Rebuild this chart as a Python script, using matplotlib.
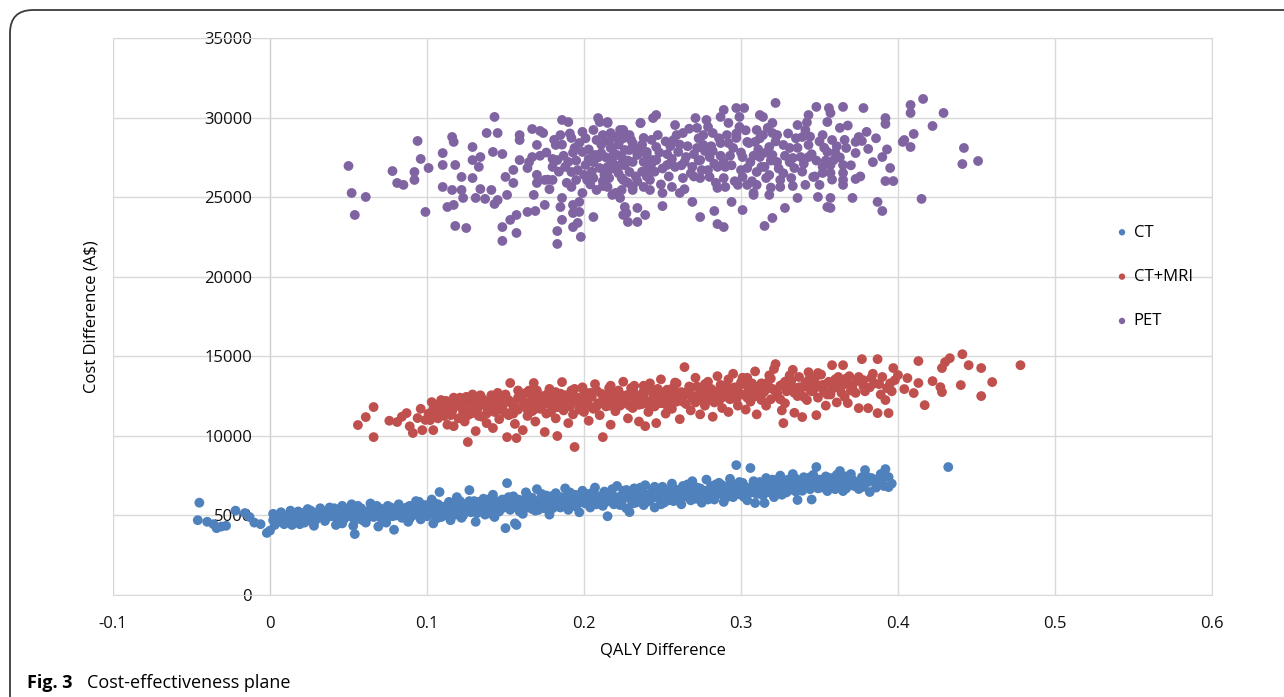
import matplotlib
matplotlib.use("Agg")
import matplotlib.pyplot as plt
from matplotlib.patches import FancyBboxPatch
import numpy as np

plt.rcParams['font.family'] = ['Open Sans', 'DejaVu Sans']

# (QALY difference, cost difference)
ct_points = [
    (-0.045, 5800), (-0.046, 4700), (-0.040, 4600), (-0.036, 4450), (-0.034, 4200), (-0.031, 4300),
    (-0.028, 4350), (-0.022, 5300), (-0.016, 5150), (-0.013, 4900), (-0.010, 4550), (-0.006, 4450),
    (-0.002, 3900), (0.000, 4050), (0.002, 4700), (0.004, 4850), (0.007, 5200), (0.009, 4450),
    (0.012, 4600), (0.015, 5050), (0.017, 4700), (0.019, 4450), (0.021, 5150), (0.023, 4800),
    (0.026, 5300), (0.028, 4350), (0.030, 4900), (0.032, 5450), (0.033, 5100), (0.035, 4650),
    (0.037, 5250), (0.039, 4950), (0.041, 5450), (0.042, 4400), (0.044, 5050), (0.046, 5600),
    (0.047, 4750), (0.049, 5300), (0.050, 4950), (0.052, 5700), (0.053, 4350), (0.054, 3830),
    (0.055, 5150), (0.057, 4800), (0.058, 5450), (0.060, 5000), (0.061, 4550), (0.063, 5300),
    (0.064, 5750), (0.066, 4900), (0.067, 5150), (0.069, 4300), (0.070, 5450), (0.072, 5050),
    (0.073, 4700), (0.075, 5600), (0.076, 5250), (0.078, 4950), (0.079, 4100), (0.081, 5350),
    (0.082, 5700), (0.084, 4850), (0.085, 5150), (0.087, 5500), (0.088, 4600), (0.090, 5300),
    (0.091, 5000), (0.093, 5900), (0.094, 5450), (0.096, 4750), (0.097, 5200), (0.099, 5650),
    (0.100, 4950), (0.101, 5400), (0.103, 6000), (0.104, 4500), (0.105, 5150), (0.107, 5700),
    (0.108, 6470), (0.109, 4900), (0.111, 5450), (0.112, 5250), (0.114, 5850), (0.115, 4700),
    (0.116, 5550), (0.118, 5050), (0.119, 6150), (0.121, 5350), (0.122, 4850), (0.124, 5700),
    (0.125, 5500), (0.127, 6590), (0.128, 5200), (0.130, 5900), (0.131, 4600), (0.133, 5600),
    (0.134, 5350), (0.136, 6050), (0.137, 5050), (0.139, 5750), (0.140, 5450), (0.142, 6300),
    (0.143, 4900), (0.145, 5650), (0.146, 5250), (0.148, 6000), (0.149, 5500), (0.151, 7030),
    (0.150, 4200), (0.152, 5800), (0.153, 5350), (0.155, 6200), (0.156, 4500), (0.157, 4400),
    (0.158, 5650), (0.160, 5950), (0.161, 5100), (0.163, 6450), (0.164, 5500), (0.166, 5800),
    (0.167, 6100), (0.169, 5300), (0.170, 6650), (0.172, 5700), (0.173, 5950), (0.175, 5450),
    (0.176, 6250), (0.178, 5050), (0.179, 6000), (0.181, 5750), (0.182, 6400), (0.184, 5550),
    (0.185, 6150), (0.187, 5850), (0.188, 6700), (0.190, 5350), (0.191, 6000), (0.193, 5650),
    (0.194, 6300), (0.196, 5900), (0.197, 5200), (0.199, 6550), (0.200, 6100), (0.201, 5750),
    (0.203, 6350), (0.204, 5500), (0.206, 6000), (0.207, 6750), (0.209, 5850), (0.210, 6200),
    (0.212, 5600), (0.213, 6500), (0.215, 4950), (0.216, 6050), (0.218, 6300), (0.219, 5700),
    (0.221, 6850), (0.222, 6150), (0.224, 5900), (0.225, 6550), (0.227, 5450), (0.228, 6250),
    (0.229, 5210), (0.230, 6000), (0.232, 6700), (0.233, 5800), (0.235, 6400), (0.236, 6100),
    (0.238, 5650), (0.239, 6900), (0.241, 6250), (0.242, 5950), (0.244, 6600), (0.245, 5500),
    (0.247, 6350), (0.248, 6050), (0.250, 6800), (0.251, 5800), (0.253, 6450), (0.254, 6150),
    (0.256, 7000), (0.257, 5900), (0.259, 6600), (0.260, 6300), (0.262, 5700), (0.263, 6850),
    (0.265, 6200), (0.266, 6500), (0.268, 5950), (0.269, 7150), (0.271, 6400), (0.272, 6050),
    (0.274, 6700), (0.275, 5800), (0.277, 6550), (0.278, 7250), (0.280, 6250), (0.281, 6850),
    (0.283, 6000), (0.284, 6600), (0.286, 7050), (0.287, 6350), (0.289, 5850), (0.290, 6750),
    (0.292, 6450), (0.293, 7300), (0.295, 6150), (0.296, 6900), (0.297, 8160), (0.298, 6600),
    (0.300, 6300), (0.301, 7050), (0.303, 6500), (0.304, 5950), (0.306, 7980), (0.307, 6800),
    (0.309, 5780), (0.310, 6350), (0.312, 7100), (0.313, 6650), (0.315, 5780), (0.316, 7350),
    (0.318, 6450), (0.319, 6900), (0.321, 6150), (0.322, 7200), (0.324, 6700), (0.325, 7500),
    (0.327, 6400), (0.328, 6950), (0.330, 7250), (0.331, 6600), (0.333, 7600), (0.334, 6850),
    (0.336, 5970), (0.337, 7100), (0.339, 6550), (0.340, 7400), (0.342, 6800), (0.343, 7150),
    (0.345, 6000), (0.346, 7550), (0.348, 8040), (0.349, 6700), (0.350, 7250), (0.352, 6950),
    (0.354, 7450), (0.355, 6530), (0.357, 7150), (0.359, 6850), (0.361, 7550), (0.363, 7790),
    (0.365, 6530), (0.366, 7250), (0.368, 6950), (0.370, 7600), (0.372, 7050), (0.375, 6660),
    (0.377, 7400), (0.379, 7850), (0.381, 7100), (0.382, 6470), (0.385, 7250), (0.387, 6910),
    (0.389, 7600), (0.392, 7910), (0.394, 7410), (0.394, 6780), (0.396, 7000), (0.432, 8040),
    # dense middle of the band
    (0.002, 5100), (0.006, 4600), (0.011, 4950), (0.014, 4400), (0.018, 5250), (0.022, 4550),
    (0.025, 5000), (0.029, 4700), (0.031, 5200), (0.036, 4850), (0.038, 5500), (0.043, 4750),
    (0.045, 5250), (0.048, 5000), (0.051, 5400), (0.054, 4700), (0.056, 5050), (0.059, 5300),
    (0.062, 4850), (0.065, 5450), (0.068, 5100), (0.071, 4800), (0.074, 5300), (0.077, 5500),
    (0.080, 5000), (0.083, 5250), (0.086, 4900), (0.089, 5600), (0.092, 5150), (0.095, 5350),
    (0.098, 5000), (0.102, 5600), (0.104, 5250), (0.106, 4800), (0.110, 5550), (0.113, 5100),
    (0.117, 5800), (0.120, 5300), (0.123, 5000), (0.126, 5650), (0.129, 5400), (0.132, 5150),
    (0.135, 5800), (0.138, 5500), (0.141, 5100), (0.144, 5900), (0.147, 5400), (0.150, 5650),
    (0.154, 5950), (0.157, 5500), (0.159, 5250), (0.162, 5800), (0.165, 6050), (0.168, 5600),
    (0.171, 5350), (0.174, 6200), (0.177, 5700), (0.180, 5450), (0.183, 6000), (0.186, 5650),
    (0.189, 6250), (0.192, 5800), (0.195, 5550), (0.198, 6050), (0.202, 5900), (0.205, 6250),
    (0.208, 5700), (0.211, 6050), (0.214, 5850), (0.217, 6450), (0.220, 6000), (0.223, 5650),
    (0.226, 6300), (0.229, 6100), (0.231, 5750), (0.234, 6550), (0.237, 6200), (0.240, 5850),
    (0.243, 6400), (0.246, 6150), (0.249, 5700), (0.252, 6600), (0.255, 6300), (0.258, 6000),
    (0.261, 6500), (0.264, 6250), (0.267, 6800), (0.270, 6050), (0.273, 6550), (0.276, 6300),
    (0.279, 6000), (0.282, 6650), (0.285, 6400), (0.288, 6900), (0.291, 6150), (0.294, 6600),
    (0.297, 6350), (0.299, 6800), (0.302, 6150), (0.305, 6700), (0.308, 6450), (0.311, 6900),
    (0.314, 6250), (0.317, 6750), (0.320, 6550), (0.323, 6950), (0.326, 6300), (0.329, 6700),
    (0.332, 7050), (0.335, 6500), (0.338, 6900), (0.341, 7200), (0.344, 6650), (0.347, 7000),
    (0.351, 6750), (0.353, 7200), (0.356, 6900), (0.360, 7050), (0.364, 7300), (0.367, 6700),
    (0.371, 7250), (0.374, 7000), (0.378, 6800), (0.383, 7350), (0.388, 7100), (0.391, 6850),
    (0.003, 4400), (0.008, 5000), (0.013, 5300), (0.016, 4800), (0.020, 4950), (0.024, 5400),
    (0.027, 4600), (0.034, 4950), (0.040, 5150), (0.046, 4500), (0.051, 5100), (0.056, 5600),
    (0.059, 4700), (0.063, 5000), (0.068, 5600), (0.071, 5250), (0.074, 4550), (0.078, 5150),
    (0.083, 5450), (0.086, 5250), (0.089, 4800), (0.092, 5500), (0.095, 5850), (0.098, 5350),
    (0.102, 5100), (0.105, 5750), (0.108, 5350), (0.111, 5000), (0.114, 5500), (0.118, 5600),
    (0.121, 5900), (0.124, 5250), (0.127, 5900), (0.130, 5450), (0.133, 5850), (0.136, 5250),
    (0.139, 6000), (0.142, 5600), (0.145, 5400), (0.148, 5750), (0.152, 6150), (0.155, 5650),
    (0.158, 6000), (0.161, 5600), (0.164, 6250), (0.167, 5400), (0.170, 5900), (0.173, 6350),
    (0.176, 5600), (0.179, 6200), (0.182, 5850), (0.185, 5500), (0.188, 6050), (0.191, 6450),
    (0.194, 5950), (0.197, 6300), (0.200, 5800), (0.203, 6100), (0.206, 6500), (0.209, 6150),
    (0.212, 5850), (0.215, 6300), (0.218, 6650), (0.221, 5850), (0.224, 6200), (0.227, 6600),
    (0.230, 6250), (0.233, 6050), (0.236, 6750), (0.239, 6350), (0.242, 6150), (0.245, 6800),
    (0.248, 6250), (0.251, 6500), (0.254, 5950), (0.257, 6700), (0.260, 6100), (0.263, 6550),
    (0.266, 6950), (0.269, 6300), (0.272, 6750), (0.275, 6150), (0.278, 6550), (0.281, 6400),
    (0.284, 6950), (0.287, 6650), (0.290, 6250), (0.293, 6900), (0.296, 6450), (0.299, 7100),
    (0.302, 6850), (0.305, 6400), (0.308, 7150), (0.311, 6600), (0.314, 7000), (0.317, 6550),
    (0.320, 7250), (0.323, 6600), (0.326, 7050), (0.329, 6450), (0.332, 6850), (0.335, 7300),
    (0.338, 6750), (0.341, 7050), (0.344, 7400), (0.347, 6850), (0.350, 7050), (0.354, 6750),
    (0.357, 7350), (0.360, 6650), (0.363, 7050), (0.367, 7450), (0.372, 6850), (0.376, 7150),
    (0.380, 7450), (0.386, 6750), (0.390, 7300),
]

ctmri_points = [
    (0.056, 10680), (0.061, 11180), (0.066, 11810), (0.066, 9920), (0.076, 10950), (0.081, 10870),
    (0.084, 11200), (0.087, 11430), (0.089, 10600), (0.091, 10180), (0.094, 11120), (0.096, 11700),
    (0.097, 10360), (0.099, 11000), (0.102, 10990), (0.103, 12120), (0.104, 10360), (0.106, 11450),
    (0.108, 11800), (0.109, 12250), (0.111, 11250), (0.113, 10700), (0.114, 12000), (0.116, 11550),
    (0.117, 10610), (0.119, 12300), (0.120, 11100), (0.122, 11800), (0.124, 10900), (0.125, 12450),
    (0.126, 9610), (0.128, 11400), (0.129, 12000), (0.131, 10300), (0.132, 11650), (0.134, 12550),
    (0.135, 11200), (0.137, 11900), (0.138, 10800), (0.140, 12250), (0.142, 10490), (0.143, 11500),
    (0.145, 12700), (0.146, 11050), (0.148, 11800), (0.149, 12400), (0.151, 9920), (0.152, 11300),
    (0.153, 13320), (0.155, 12050), (0.156, 10750), (0.157, 9860), (0.158, 11650), (0.160, 12600),
    (0.161, 10360), (0.162, 11950), (0.164, 11250), (0.165, 12850), (0.167, 11550), (0.168, 13320),
    (0.169, 10900), (0.171, 12200), (0.172, 11700), (0.174, 12500), (0.175, 10240), (0.176, 11400),
    (0.178, 12950), (0.179, 11900), (0.181, 12300), (0.182, 11100), (0.183, 9990), (0.185, 12650),
    (0.186, 13380), (0.187, 11600), (0.189, 12100), (0.190, 10800), (0.192, 12850), (0.193, 11350),
    (0.194, 9300), (0.196, 12400), (0.197, 11800), (0.199, 13050), (0.200, 11500), (0.201, 12250),
    (0.203, 10950), (0.204, 12700), (0.206, 11700), (0.207, 13250), (0.209, 12050), (0.210, 11300),
    (0.212, 9920), (0.213, 12550), (0.214, 11850), (0.216, 13000), (0.217, 10700), (0.219, 12300),
    (0.220, 11550), (0.222, 12850), (0.223, 11900), (0.225, 13400), (0.226, 12150), (0.228, 11100),
    (0.229, 12600), (0.231, 11750), (0.232, 13150), (0.234, 12350), (0.235, 10900), (0.237, 12000),
    (0.238, 12800), (0.239, 10610), (0.241, 11500), (0.242, 13300), (0.244, 12200), (0.245, 11850),
    (0.246, 10800), (0.247, 12650), (0.249, 13550), (0.250, 12050), (0.252, 11400), (0.253, 12900),
    (0.255, 12400), (0.256, 11700), (0.258, 13350), (0.259, 12150), (0.261, 11050), (0.262, 12750),
    (0.264, 14320), (0.265, 12000), (0.267, 13100), (0.268, 11600), (0.270, 12500), (0.271, 13650),
    (0.273, 12250), (0.274, 11350), (0.276, 12950), (0.277, 11900), (0.279, 13400), (0.280, 12650),
    (0.282, 11200), (0.283, 12100), (0.285, 13750), (0.286, 12800), (0.288, 11750), (0.289, 12450),
    (0.291, 13200), (0.292, 11500), (0.294, 12900), (0.295, 13900), (0.297, 12300), (0.298, 11900),
    (0.300, 13350), (0.301, 12600), (0.303, 11650), (0.304, 13650), (0.306, 12150), (0.307, 12950),
    (0.309, 14050), (0.310, 11350), (0.312, 12450), (0.313, 13300), (0.315, 12800), (0.316, 11900),
    (0.318, 13800), (0.319, 12300), (0.321, 14200), (0.322, 14510), (0.323, 12700), (0.325, 13150),
    (0.326, 11600), (0.327, 10800), (0.328, 12050), (0.330, 13500), (0.331, 12900), (0.333, 14150),
    (0.334, 11450), (0.336, 12500), (0.337, 13700), (0.339, 11180), (0.340, 13100), (0.342, 12250),
    (0.343, 14000), (0.345, 12800), (0.346, 13400), (0.348, 11300), (0.349, 12400), (0.351, 13850),
    (0.352, 12950), (0.354, 11900), (0.355, 13300), (0.357, 12600), (0.358, 14440), (0.360, 13550),
    (0.361, 12100), (0.363, 13000), (0.365, 14440), (0.366, 12450), (0.368, 12060), (0.369, 13750),
    (0.371, 13200), (0.373, 12700), (0.375, 11740), (0.377, 14820), (0.378, 13500), (0.381, 11740),
    (0.382, 13050), (0.384, 13900), (0.387, 14820), (0.387, 11430), (0.389, 12600), (0.392, 12250),
    (0.394, 11430), (0.395, 13300), (0.397, 14260), (0.400, 13820), (0.404, 12940), (0.406, 13630),
    (0.410, 12690), (0.413, 14700), (0.413, 13320), (0.417, 11930), (0.422, 13440), (0.427, 13060),
    (0.428, 14260), (0.428, 12750), (0.430, 14630), (0.433, 14880), (0.440, 13190), (0.441, 15130),
    (0.445, 14440), (0.453, 14260), (0.453, 12500), (0.460, 13380), (0.478, 14440),
    # dense middle of the band
    (0.101, 11400), (0.105, 11900), (0.107, 11100), (0.110, 11700), (0.112, 12200), (0.115, 11300),
    (0.118, 11850), (0.121, 12400), (0.123, 11500), (0.126, 12100), (0.128, 11700), (0.131, 12300),
    (0.133, 11250), (0.136, 12000), (0.139, 11600), (0.141, 12550), (0.144, 11900), (0.147, 12250),
    (0.150, 11450), (0.153, 12100), (0.155, 11700), (0.158, 12400), (0.161, 11900), (0.163, 12700),
    (0.166, 12150), (0.169, 11700), (0.172, 12450), (0.174, 11950), (0.177, 12650), (0.180, 12100),
    (0.183, 11800), (0.186, 12350), (0.188, 11950), (0.191, 12600), (0.194, 12200), (0.197, 11650),
    (0.200, 12800), (0.202, 12050), (0.205, 12450), (0.208, 11850), (0.211, 12650), (0.213, 12150),
    (0.216, 11900), (0.218, 12700), (0.221, 12250), (0.224, 12000), (0.227, 12550), (0.230, 13000),
    (0.232, 12300), (0.235, 11950), (0.238, 12600), (0.240, 12200), (0.243, 12900), (0.246, 12400),
    (0.248, 12050), (0.251, 12750), (0.254, 12250), (0.257, 13050), (0.260, 12550), (0.263, 12150),
    (0.266, 12800), (0.269, 12400), (0.272, 13100), (0.275, 12650), (0.278, 12200), (0.281, 12950),
    (0.284, 12550), (0.287, 13200), (0.290, 12750), (0.293, 12300), (0.296, 13050), (0.299, 12650),
    (0.302, 13250), (0.305, 12850), (0.308, 12450), (0.311, 13100), (0.314, 12700), (0.317, 13350),
    (0.320, 12950), (0.323, 12500), (0.326, 13200), (0.329, 12800), (0.332, 13450), (0.335, 13000),
    (0.338, 12600), (0.341, 13300), (0.344, 12900), (0.347, 13600), (0.350, 13150), (0.353, 12750),
    (0.356, 13400), (0.359, 13000), (0.362, 13700), (0.366, 13250), (0.370, 12850), (0.374, 13450),
    (0.378, 13100), (0.383, 13650), (0.388, 13250), (0.393, 13000), (0.398, 13500),
    (0.104, 11700), (0.108, 12000), (0.111, 11950), (0.114, 11500), (0.117, 12400), (0.120, 11900),
    (0.123, 12150), (0.126, 11300), (0.129, 12600), (0.132, 11900), (0.135, 12350), (0.138, 11400),
    (0.141, 11800), (0.144, 12350), (0.147, 11650), (0.150, 12600), (0.152, 12250), (0.155, 11400),
    (0.158, 12850), (0.161, 12200), (0.164, 11650), (0.167, 12450), (0.170, 12850), (0.173, 11950),
    (0.176, 12250), (0.179, 11500), (0.182, 12750), (0.185, 12050), (0.188, 12550), (0.191, 11850),
    (0.194, 12950), (0.197, 12300), (0.199, 12000), (0.202, 12500), (0.205, 11800), (0.208, 12850),
    (0.211, 12100), (0.214, 12400), (0.217, 13150), (0.220, 12050), (0.223, 12600), (0.226, 12350),
    (0.229, 11900), (0.232, 12700), (0.235, 12450), (0.238, 13150), (0.241, 12000), (0.244, 12650),
    (0.247, 12950), (0.250, 12400), (0.253, 11900), (0.256, 12650), (0.259, 13300), (0.262, 12300),
    (0.265, 12600), (0.268, 13050), (0.271, 12100), (0.274, 12800), (0.277, 13250), (0.280, 12400),
    (0.283, 12800), (0.286, 12200), (0.289, 13000), (0.292, 13550), (0.295, 12450), (0.298, 12850),
    (0.301, 13650), (0.304, 12400), (0.307, 13300), (0.310, 12750), (0.313, 12250), (0.316, 13150),
    (0.319, 13600), (0.322, 12800), (0.325, 12300), (0.328, 13400), (0.331, 13800), (0.334, 12700),
    (0.337, 13050), (0.340, 12450), (0.343, 13500), (0.346, 12850), (0.349, 13950), (0.352, 13200),
    (0.355, 12600), (0.358, 13100), (0.361, 13400), (0.364, 12700), (0.367, 13600), (0.371, 12950),
    (0.375, 13700), (0.379, 12800), (0.385, 13300), (0.390, 13700), (0.396, 12800),
]

pet_points = [
    (0.050, 26960), (0.052, 25260), (0.054, 23880), (0.061, 25010), (0.078, 26640), (0.081, 25890),
    (0.085, 25770), (0.092, 26080), (0.092, 26580), (0.094, 28530), (0.096, 27400), (0.099, 24070),
    (0.101, 26830), (0.110, 27770), (0.110, 27020), (0.110, 25640), (0.116, 28780), (0.117, 28470),
    (0.113, 24380), (0.118, 23190), (0.125, 23060), (0.118, 27020), (0.122, 26270), (0.122, 25450),
    (0.129, 28150), (0.129, 26200), (0.131, 24950), (0.116, 25450), (0.117, 24510), (0.123, 24950),
    (0.134, 25510), (0.137, 24890), (0.138, 29030), (0.145, 29030), (0.143, 30040), (0.142, 27840),
    (0.148, 27710), (0.129, 27330), (0.134, 27520), (0.133, 26900), (0.141, 25450), (0.145, 24820),
    (0.143, 24570), (0.148, 23120), (0.148, 22250), (0.157, 22750), (0.153, 23570), (0.157, 23880),
    (0.155, 26710), (0.159, 27330), (0.159, 28590), (0.159, 28900), (0.150, 26270), (0.155, 25890),
    (0.151, 25140), (0.164, 24070), (0.169, 24130), (0.167, 29280), (0.172, 29160), (0.174, 29030),
    (0.170, 28280), (0.167, 27520), (0.164, 26830), (0.175, 24510), (0.175, 26080), (0.170, 25890),
    (0.168, 25140), (0.183, 22060), (0.183, 22870), (0.186, 23570), (0.185, 24380), (0.186, 24950),
    (0.186, 29850), (0.190, 29720), (0.182, 28280), (0.185, 28900), (0.183, 27330), (0.180, 26900),
    (0.180, 26080), (0.192, 28720), (0.194, 28090), (0.190, 27210), (0.192, 26580), (0.195, 26080),
    (0.192, 25640), (0.193, 24510), (0.193, 24000), (0.197, 24700), (0.197, 24070), (0.193, 23120),
    (0.198, 22500), (0.196, 23380), (0.199, 29100), (0.199, 27840), (0.201, 27020), (0.202, 26080),
    (0.199, 25260), (0.206, 23750), (0.206, 29220), (0.209, 29970), (0.215, 29720), (0.212, 28900),
    (0.208, 28590), (0.207, 27650), (0.210, 26830), (0.206, 26200), (0.208, 25450), (0.217, 29030),
    (0.218, 28090), (0.218, 27210), (0.215, 26580), (0.215, 25640), (0.221, 25260), (0.224, 26200),
    (0.224, 27520), (0.223, 28590), (0.225, 29220), (0.227, 24000), (0.225, 23880), (0.228, 23440),
    (0.234, 23440), (0.234, 24320), (0.239, 23880), (0.229, 27960), (0.231, 27210), (0.236, 29660),
    (0.238, 28720), (0.240, 27650), (0.241, 26830), (0.244, 29970), (0.246, 30160), (0.242, 26080),
    (0.238, 25640), (0.231, 25450), (0.224, 25450), (0.218, 25140), (0.227, 25950), (0.244, 27330),
    (0.246, 28150), (0.210, 29720), (0.215, 29660), (0.236, 29660), (0.223, 29220), (0.229, 28900),
    (0.220, 28780), (0.212, 28590), (0.231, 28400), (0.217, 28090), (0.226, 27960), (0.211, 27770),
    (0.221, 27650), (0.234, 27650), (0.240, 27840), (0.238, 27210), (0.246, 27330), (0.253, 27020),
    (0.215, 26900), (0.223, 27020), (0.229, 26580), (0.216, 26200), (0.225, 26080), (0.231, 25640),
    (0.212, 25700), (0.220, 25260), (0.223, 24950), (0.226, 24380), (0.242, 25450), (0.250, 24440),
    (0.250, 25260), (0.256, 25640), (0.263, 26200), (0.261, 25260), (0.269, 24700), (0.274, 23750),
    (0.283, 24130), (0.285, 23310), (0.289, 23120), (0.294, 24700), (0.290, 25640), (0.285, 25580),
    (0.274, 26200), (0.280, 26270), (0.269, 26900), (0.265, 27520), (0.260, 27840), (0.257, 28590),
    (0.263, 29030), (0.258, 29530), (0.271, 29970), (0.272, 29350), (0.278, 29850), (0.279, 29410),
    (0.287, 30040), (0.289, 30480), (0.292, 29660), (0.282, 29030), (0.287, 28400), (0.276, 28280),
    (0.272, 28090), (0.274, 27330), (0.280, 27520), (0.285, 26900), (0.289, 27210), (0.295, 28090),
    (0.291, 28900), (0.297, 30600), (0.302, 30600), (0.299, 30040), (0.299, 29410), (0.297, 28720),
    (0.304, 28470), (0.301, 27520), (0.304, 26830), (0.301, 26270), (0.298, 25770), (0.304, 25770),
    (0.310, 25770), (0.308, 25140), (0.301, 24190), (0.312, 30160), (0.314, 30040), (0.322, 30920),
    (0.320, 29660), (0.317, 29350), (0.310, 29220), (0.309, 28470), (0.314, 28900), (0.320, 29030),
    (0.318, 28150), (0.312, 27520), (0.320, 27650), (0.323, 27210), (0.315, 26900), (0.310, 26580),
    (0.318, 26390), (0.325, 26080), (0.325, 25640), (0.318, 25140), (0.308, 25260), (0.328, 24320),
    (0.320, 23690), (0.315, 23190), (0.336, 24950), (0.327, 28280), (0.331, 28090), (0.333, 27460),
    (0.334, 26830), (0.332, 26200), (0.336, 29530), (0.341, 29220), (0.343, 30160), (0.339, 28780),
    (0.343, 28280), (0.343, 27520), (0.338, 27520), (0.341, 25770), (0.346, 26270), (0.350, 25770),
    (0.349, 25010), (0.348, 30670), (0.355, 24380), (0.357, 24320), (0.357, 24950), (0.352, 28900),
    (0.355, 29720), (0.356, 30600), (0.357, 30290), (0.358, 28590), (0.355, 27840), (0.359, 27330),
    (0.357, 27020), (0.352, 26900), (0.352, 26520), (0.357, 26520), (0.363, 29350), (0.365, 30670),
    (0.367, 28090), (0.365, 27020), (0.365, 26520), (0.365, 26080), (0.365, 25770), (0.371, 24950),
    (0.373, 26140), (0.373, 28470), (0.375, 28780), (0.377, 28530), (0.373, 27770), (0.378, 30600),
    (0.381, 28030), (0.390, 27520), (0.395, 26830), (0.392, 26010), (0.397, 26010), (0.392, 29970),
    (0.392, 29600), (0.387, 24700), (0.390, 24130), (0.403, 28470), (0.404, 28590), (0.408, 28150),
    (0.410, 28970), (0.408, 30290), (0.408, 30790), (0.416, 31170), (0.422, 29470), (0.429, 30290),
    (0.415, 24890), (0.442, 28090), (0.441, 27080), (0.451, 27270),
    # dense middle of the cloud
    (0.165, 27200), (0.170, 26400), (0.176, 27800), (0.178, 25500), (0.181, 28600), (0.184, 26600),
    (0.187, 27600), (0.189, 25900), (0.191, 29000), (0.195, 27300), (0.197, 28400), (0.200, 26400),
    (0.203, 28000), (0.204, 25800), (0.206, 27200), (0.211, 28300), (0.213, 26400), (0.214, 27500),
    (0.219, 26800), (0.222, 28300), (0.226, 27000), (0.228, 25900), (0.230, 28600), (0.233, 26300),
    (0.235, 27900), (0.237, 26600), (0.243, 28600), (0.245, 26600), (0.248, 27800), (0.249, 25800),
    (0.252, 28500), (0.254, 26300), (0.256, 27400), (0.259, 28900), (0.262, 27000), (0.264, 25500),
    (0.266, 28200), (0.268, 26500), (0.270, 27700), (0.273, 28700), (0.275, 26700), (0.277, 27900),
    (0.281, 28200), (0.283, 27100), (0.284, 25900), (0.287, 27600), (0.289, 26200), (0.292, 28400),
    (0.294, 27000), (0.296, 26000), (0.300, 27800), (0.303, 29200), (0.306, 27200), (0.307, 26000),
    (0.311, 28000), (0.313, 26900), (0.316, 27800), (0.319, 25600), (0.322, 28500), (0.324, 26800),
    (0.328, 27600), (0.330, 29000), (0.333, 25700), (0.336, 28100), (0.339, 26600), (0.342, 29700),
    (0.345, 27700), (0.347, 26300), (0.350, 28500), (0.354, 27300), (0.358, 26100), (0.361, 28200),
    (0.363, 27500), (0.368, 29500), (0.370, 27000), (0.376, 26300), (0.380, 29100), (0.384, 27200),
    (0.386, 28700), (0.393, 28000),
    (0.172, 27600), (0.177, 26100), (0.180, 27400), (0.186, 28300), (0.188, 26900), (0.193, 27800),
    (0.196, 26700), (0.201, 28700), (0.203, 27400), (0.205, 26600), (0.209, 27500), (0.212, 26000),
    (0.216, 28500), (0.219, 27700), (0.222, 26500), (0.225, 28700), (0.228, 27300), (0.232, 28100),
    (0.234, 26000), (0.237, 28300), (0.240, 26300), (0.243, 27100), (0.247, 28900), (0.250, 26800),
    (0.253, 27700), (0.255, 28200), (0.258, 26900), (0.261, 28300), (0.264, 27200), (0.267, 29300),
    (0.270, 26300), (0.273, 27300), (0.276, 28900), (0.279, 26700), (0.282, 27900), (0.286, 28700),
    (0.290, 26900), (0.293, 27600), (0.297, 29000), (0.300, 26700), (0.305, 28400), (0.308, 27600),
    (0.312, 28700), (0.316, 26200), (0.319, 27300), (0.323, 28900), (0.327, 26500), (0.331, 27200),
    (0.335, 28700), (0.340, 27100), (0.344, 28800), (0.348, 27300), (0.353, 28100), (0.360, 27800),
    (0.366, 28600),
]

series_names = ['CT', 'CT+MRI', 'PET']
series_colors = ['#4F81BD', '#C0504D', '#8064A2']
x_ticks = [-0.1, 0, 0.1, 0.2, 0.3, 0.4, 0.5, 0.6]
x_tick_labels = ['-0.1', '0', '0.1', '0.2', '0.3', '0.4', '0.5', '0.6']
y_ticks = [0, 5000, 10000, 15000, 20000, 25000, 30000, 35000]

fig = plt.figure(figsize=(12.84, 6.97), dpi=100)
ax = fig.add_axes([113 / 1284, 1 - 595 / 697, 1099 / 1284, 557 / 697])

for pts, name, col in zip([ct_points, ctmri_points, pet_points], series_names, series_colors):
    arr = np.array(pts)
    ax.scatter(arr[:, 0], arr[:, 1], s=50, color=col, edgecolors='none', label=name, zorder=3)

ax.set_xlim(-0.1, 0.6)
ax.set_ylim(0, 35000)
ax.set_xticks(x_ticks)
ax.set_xticklabels(x_tick_labels)
ax.set_yticks(y_ticks)
ax.grid(True, color='#d9d9d9', linewidth=1.0, zorder=0)
ax.set_axisbelow(True)

# value axis crosses at x = 0, as in the Excel chart
ax.spines['left'].set_position(('data', 0))
ax.spines['left'].set_color('#d0d0d0')
for side in ['top', 'right', 'bottom']:
    ax.spines[side].set_color('#d9d9d9')
ax.tick_params(axis='both', length=0, labelsize=12, labelcolor='#111111')
ax.tick_params(axis='y', pad=13)
ax.tick_params(axis='x', pad=15)

ax.set_xlabel('QALY Difference', fontsize=12, labelpad=8)
ax.set_ylabel('Cost Difference (A$)', fontsize=12)
ax.yaxis.set_label_coords(-0.012, 0.5)

ax.legend(loc='center left', bbox_to_anchor=(1097 / 1284, 1 - 277 / 697),
          bbox_transform=fig.transFigure, frameon=False, fontsize=12,
          markerscale=0.65, handletextpad=0.1, labelspacing=1.7, handlelength=1.2)

frame = FancyBboxPatch((10 / 1284, -0.1), 1.2, 1.1 - 10 / 697,
                       boxstyle='round,pad=0,rounding_size=0.018',
                       transform=fig.transFigure, facecolor='none',
                       edgecolor='#3a3a3a', linewidth=1.3, mutation_aspect=1284 / 697)
fig.patches.append(frame)

fig.text(27 / 1284, 1 - 683 / 697, 'Fig. 3', fontsize=13, fontweight='bold', va='center')
fig.text(87 / 1284, 1 - 683 / 697, 'Cost-effectiveness plane', fontsize=13, va='center')

fig.savefig('out.png', dpi=100)
